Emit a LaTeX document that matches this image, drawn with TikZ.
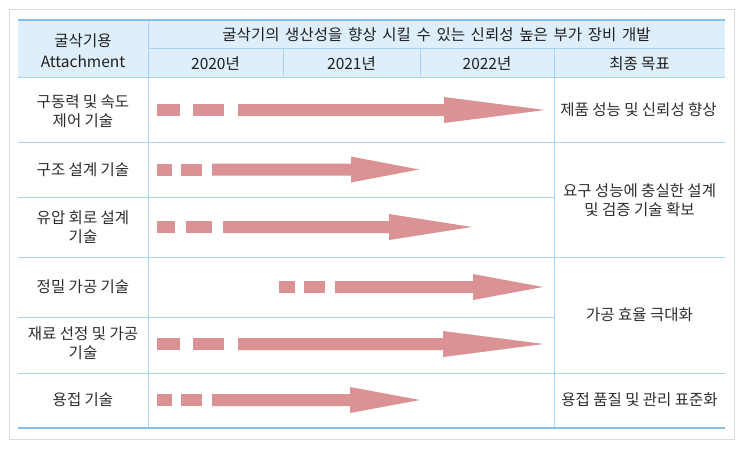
\documentclass[tikz,border=0pt]{standalone}
\usepackage{fontspec}
\setmainfont{Noto Sans CJK KR}
\newfontfamily\titlefont[WordSpace=1.65]{Noto Sans CJK KR}
\definecolor{hdrfill}{HTML}{DEEFFB}
\definecolor{gridline}{HTML}{A9D3F3}
\definecolor{thickline}{HTML}{85BFEC}
\definecolor{arrowpink}{HTML}{DA9294}
\definecolor{txt}{HTML}{2E2E2E}
\definecolor{hdrtxt}{HTML}{1E1E1E}
\definecolor{frame}{HTML}{D9D9D9}
\newcommand\ganttarrow[8]{%
  \fill[arrowpink] (#2,#1-6) rectangle (#3,#1+6);
  \fill[arrowpink] (#4,#1-6) rectangle (#5,#1+6);
  \fill[arrowpink] (#6,#1-6) -- (#7,#1-6) -- (#7,#1-13) -- (#8,#1) -- (#7,#1+13) -- (#7,#1+6) -- (#6,#1+6) -- cycle;}
\begin{document}
\begin{tikzpicture}[x=1pt,y=-1pt,
  lbl/.style={text=txt,font=\fontsize{15.5}{19.5}\selectfont,align=center,inner sep=0pt},
  hdr/.style={lbl,text=hdrtxt},
  grid/.style={draw=gridline,line width=1pt},
  thick rule/.style={draw=thickline,line width=2.5pt}]
\useasboundingbox (0,0) rectangle (743,448);
\fill[white] (0,0) rectangle (743,448);
\draw[frame,line width=1pt] (9,9) rectangle (734,439);
% header fill
\fill[hdrfill] (18,20) rectangle (725,77);
% grid lines
\draw[grid] (148,48) -- (725,48);
\draw[grid] (18,77) -- (725,77);
\draw[grid] (18,142) -- (725,142);
\draw[grid] (18,197) -- (554,197);
\draw[grid] (18,257) -- (725,257);
\draw[grid] (18,317) -- (554,317);
\draw[grid] (18,373) -- (725,373);
\draw[grid] (148,20) -- (148,428);
\draw[grid] (554,48) -- (554,428);
\draw[grid] (283,48) -- (283,77);
\draw[grid] (420,48) -- (420,77);
\draw[thick rule] (18,20) -- (725,20);
\draw[thick rule] (18,428) -- (725,428);
% arrows
\ganttarrow{110}{157}{180}{193}{224}{238}{444}{545}
\ganttarrow{169.5}{157}{172}{181}{202}{212}{351}{419}
\ganttarrow{227}{157}{175}{186}{212}{223}{389}{472}
\ganttarrow{287}{279}{295}{304}{325}{335}{473}{543}
\ganttarrow{344}{157}{180}{193}{224}{238}{443}{544}
\ganttarrow{400}{157}{172}{181}{202}{212}{350}{420}
% header text
\node[hdr,font=\fontsize{15.5}{20.5}\selectfont] (hcat) at (83,50.5) {굴삭기용\\Attachment};
\node[hdr,font=\titlefont\fontsize{15.5}{19.5}\selectfont] (htitle) at (436.5,35) {굴삭기의 생산성을 향상 시킬 수 있는 신뢰성 높은 부가 장비 개발};
\node[hdr] (y2020) at (215.5,63.5) {2020년};
\node[hdr] (y2021) at (351.5,63.5) {2021년};
\node[hdr] (y2022) at (487,63.5) {2022년};
\node[hdr] (hgoal) at (639.5,63.5) {최종 목표};
% row labels
\node[lbl] (r1) at (83,111) {구동력 및 속도\\제어 기술};
\node[lbl] (r2) at (83,169.5) {구조 설계 기술};
\node[lbl] (r3) at (83,227) {유압 회로 설계\\기술};
\node[lbl] (r4) at (83,287) {정밀 가공 기술};
\node[lbl] (r5) at (83,343) {재료 선정 및 가공\\기술};
\node[lbl] (r6) at (83,400) {용접 기술};
% goals
\node[lbl] (g1) at (638.5,110) {제품 성능 및 신뢰성 향상};
\node[lbl] (g2) at (639.5,200) {요구 성능에 충실한 설계\\및 검증 기술 확보};
\node[lbl] (g3) at (639.5,315) {가공 효율 극대화};
\node[lbl] (g4) at (639.5,400) {용접 품질 및 관리 표준화};
\end{tikzpicture}
\end{document}
